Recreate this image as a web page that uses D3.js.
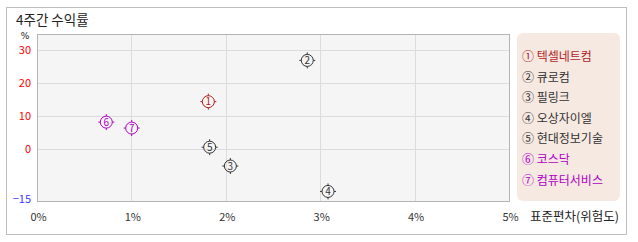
<!DOCTYPE html>
<html>
<head>
<meta charset="utf-8">
<script src="https://cdn.jsdelivr.net/npm/d3@7"></script>
<style>
  body { margin: 0; background: #fff; }
  svg text { font-family: "Noto Sans CJK KR", "DejaVu Sans", sans-serif; }
</style>
</head>
<body>
<div id="chart"></div>
<script>

// data
var marks = ["①", "②", "③", "④", "⑤", "⑥", "⑦"];
var names = ["텍셀네트컴", "큐로컴", "필링크", "오상자이엘", "현대정보기술", "코스닥", "컴퓨터서비스"];
var riskValues = [1.815, 2.863, 2.048, 3.083, 1.829, 0.734, 1.003];   // 표준편차 %
var returnValues = [14.3, 26.8, -5.2, -12.9, 0.5, 8.1, 6.3];        // 수익률 %
var groups = ["stock", "other", "other", "other", "other", "index", "index"];
var xTicks = [0, 1, 2, 3, 4, 5];
var yTicks = [30, 20, 10, 0, -15];
var yGrid = [30, 20, 10, 0];

var colors = { stock: "#b01e1e", other: "#333333", index: "#b000c4" };

var width = 638, height = 242;

var svg = d3.select("#chart").append("svg")
    .attr("width", width)
    .attr("height", height);

// outer frame
svg.append("rect")
    .attr("x", 6.5).attr("y", 7.5)
    .attr("width", 620).attr("height", 227)
    .attr("fill", "#fff")
    .attr("stroke", "#bdbdbd");

svg.append("text")
    .attr("x", 16).attr("y", 24.5)
    .attr("font-size", 13.5)
    .attr("fill", "#222")
    .text("4주간 수익률");

var plot = { left: 37, right: 509, top: 34, bottom: 201 };

var x = d3.scaleLinear().domain([0, 5]).range([plot.left, plot.right]);
var y = d3.scaleLinear().domain([-15.8, 34.8]).range([plot.bottom, plot.top]);

// plot background
svg.append("rect")
    .attr("x", plot.left + 0.5).attr("y", plot.top + 0.5)
    .attr("width", plot.right - plot.left).attr("height", plot.bottom - plot.top)
    .attr("fill", "#f5f5f5")
    .attr("stroke", "#b4b4b4");

// grid
svg.selectAll(".hgrid")
    .data(yGrid)
    .enter().append("line")
    .attr("class", "hgrid")
    .attr("x1", plot.left + 1).attr("x2", plot.right)
    .attr("y1", function (d) { return Math.round(y(d)) + 0.5; })
    .attr("y2", function (d) { return Math.round(y(d)) + 0.5; })
    .attr("stroke", "#dcdcdc");

svg.selectAll(".vgrid")
    .data(xTicks.slice(1, 5))
    .enter().append("line")
    .attr("class", "vgrid")
    .attr("y1", plot.top + 1).attr("y2", plot.bottom)
    .attr("x1", function (d) { return Math.round(x(d)) + 0.5; })
    .attr("x2", function (d) { return Math.round(x(d)) + 0.5; })
    .attr("stroke", "#dcdcdc");

// y tick labels
svg.selectAll(".ylab")
    .data(yTicks)
    .enter().append("text")
    .attr("class", "ylab")
    .attr("x", 31)
    .attr("y", function (d) { return y(d) + 4.5; })
    .attr("text-anchor", "end")
    .attr("font-size", 11)
    .attr("fill", function (d) { return d < 0 ? "#3a3aff" : "#ff0000"; })
    .text(function (d) { return d < 0 ? "\u2212" + Math.abs(d) : d; });

svg.append("text")
    .attr("x", 25).attr("y", 39)
    .attr("text-anchor", "middle")
    .attr("font-size", 9)
    .style("font-family", "'DejaVu Sans', sans-serif")
    .attr("fill", "#222")
    .text("%");

// x tick labels
svg.selectAll(".xlab")
    .data(xTicks)
    .enter().append("text")
    .attr("class", "xlab")
    .attr("x", function (d) { return x(d) + 1.5; })
    .attr("y", 220.5)
    .attr("text-anchor", "middle")
    .attr("font-size", 11)
    .attr("fill", "#333")
    .text(function (d) { return d + "%"; });

svg.append("text")
    .attr("x", 530).attr("y", 221)
    .attr("font-size", 12.5)
    .attr("fill", "#222")
    .text("표준편차(위험도)");

// points
var points = svg.selectAll(".pt")
    .data(marks)
    .enter().append("g")
    .attr("class", "pt")
    .attr("transform", function (d, i) {
        return "translate(" + x(riskValues[i]) + "," + y(returnValues[i]) + ")";
    });

points.append("circle")
    .attr("r", 6)
    .attr("fill", "none")
    .attr("stroke", function (d, i) { return colors[groups[i]]; })
    .attr("stroke-width", 1);

[[0, -6, 0, -8], [0, 6, 0, 8], [-6, 0, -8, 0], [6, 0, 8, 0]].forEach(function (t) {
    points.append("line")
        .attr("x1", t[0]).attr("y1", t[1])
        .attr("x2", t[2]).attr("y2", t[3])
        .attr("stroke", function (d, i) { return colors[groups[i]]; })
        .attr("stroke-width", 1);
});

points.append("text")
    .attr("text-anchor", "middle")
    .attr("y", 3.5)
    .attr("font-size", 10)
    .attr("fill", function (d, i) { return colors[groups[i]]; })
    .text(function (d, i) { return i + 1; });

// legend
svg.append("rect")
    .attr("x", 517).attr("y", 33)
    .attr("width", 103).attr("height", 168)
    .attr("rx", 6).attr("ry", 6)
    .attr("fill", "#f6e9e2");

svg.selectAll(".leg")
    .data(names)
    .enter().append("text")
    .attr("class", "leg")
    .attr("x", 522)
    .attr("y", function (d, i) { return 61 + i * 20.6; })
    .attr("font-size", 12)
    .attr("fill", function (d, i) { return colors[groups[i]]; })
    .text(function (d, i) { return marks[i] + " " + d; });

</script>
</body>
</html>
